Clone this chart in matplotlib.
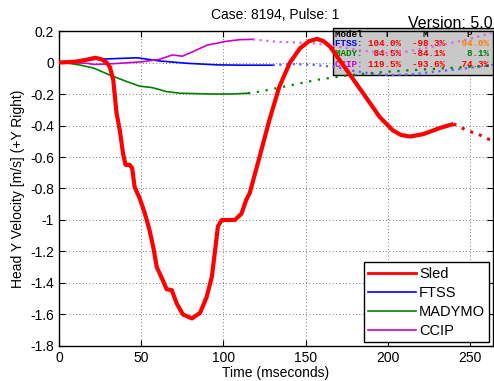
import matplotlib
matplotlib.use("Agg")
import matplotlib.pyplot as plt
from matplotlib.lines import Line2D
from matplotlib.patches import Rectangle

plt.rcParams["font.family"] = ["Liberation Sans", "DejaVu Sans"]
plt.rcParams["axes.unicode_minus"] = False

# Sled (measured) - solid part, then dotted continuation
sled_t = [0, 10, 18, 22, 26, 29, 31, 33, 35, 37, 39, 40.5, 43, 44.5, 46, 49, 52,
          55, 57.5, 59.5, 62.6, 65.5, 68.6, 71.6, 75.4, 80.9, 85.8, 89.8, 93, 95,
          96.7, 99, 107, 111, 114, 116, 122, 128, 134, 140.5, 146.6, 152, 157,
          161, 165, 175, 185, 195, 203, 208, 213.5, 221.5, 231.7, 240]
sled_v = [0, 0.005, 0.02, 0.03, 0.02, 0.0, -0.03, -0.11, -0.32, -0.43, -0.58,
          -0.65, -0.65, -0.67, -0.79, -0.86, -0.95, -1.06, -1.18, -1.30, -1.37,
          -1.44, -1.445, -1.53, -1.60, -1.625, -1.59, -1.49, -1.36, -1.19, -1.04,
          -1.0, -1.0, -0.96, -0.87, -0.83, -0.60, -0.365, -0.155, 0.0, 0.09,
          0.135, 0.15, 0.135, 0.1, -0.048, -0.195, -0.345, -0.43, -0.46, -0.47,
          -0.455, -0.416, -0.39]
sled_ext_t = [240, 248, 256, 264]
sled_ext_v = [-0.39, -0.43, -0.46, -0.50]

ftss_t = [0, 10, 21, 35, 47.5, 61, 78, 96, 112, 130]
ftss_v = [0, 0.005, 0.02, 0.025, 0.03, 0.01, -0.005, -0.015, -0.017, -0.017]
ftss_ext_t = [130, 142, 155, 169, 177, 190, 201, 215, 227, 245, 264]
ftss_ext_v = [-0.017, -0.01, -0.015, -0.03, -0.05, -0.07, -0.08, -0.075, -0.06, -0.04, -0.015]

mady_t = [0, 6, 12.8, 21, 31, 41, 49, 57, 65.5, 73.6, 92, 105, 115]
mady_v = [0, -0.005, -0.016, -0.035, -0.08, -0.12, -0.15, -0.16, -0.185, -0.195,
          -0.2, -0.2, -0.195]
mady_ext_t = [115, 122, 136, 157, 177, 197, 220, 245, 264]
mady_ext_v = [-0.195, -0.185, -0.155, -0.11, -0.08, -0.06, -0.045, -0.03, -0.02]

ccip_t = [0, 10, 17, 21, 28, 37, 51, 61, 69, 75, 81.7, 90, 102, 110, 118]
ccip_v = [0, -0.002, -0.005, -0.012, -0.01, -0.005, 0.005, 0.02, 0.048, 0.04,
          0.07, 0.11, 0.135, 0.145, 0.147]
ccip_ext_t = [118, 132, 153, 170, 185, 197, 212, 232, 248, 264]
ccip_ext_v = [0.147, 0.132, 0.124, 0.1, 0.075, 0.06, 0.07, 0.11, 0.145, 0.19]

# rating table
table_models = ["FTSS:", "MADY:", "CCIP:"]
table_t = ["104.0%", "84.5%", "119.5%"]
table_m = ["-98.3%", "-84.1%", "-93.6%"]
table_p = ["94.0%", "8.1%", "74.3%"]
model_colors = ["#0000ff", "#008000", "#cc00cc"]
p_colors = ["#ff8000", "#008000", "#ff0000"]

fig = plt.figure(figsize=(4.94, 3.81), dpi=100)
ax = fig.add_axes([0.1194, 0.0919, 0.8785, 0.8267])

ax.plot(sled_t, sled_v, color="red", lw=3, zorder=5, solid_capstyle="butt")
ax.plot(sled_ext_t, sled_ext_v, color="red", lw=2.2, ls=(0, (1, 2)), zorder=5)
ax.plot(ftss_t, ftss_v, color="#0000ff", lw=1.2, zorder=4)
ax.plot(ftss_ext_t, ftss_ext_v, color="#6060ff", lw=1.6, ls=(0, (1, 2)), zorder=4)
ax.plot(mady_t, mady_v, color="#008000", lw=1.2, zorder=4)
ax.plot(mady_ext_t, mady_ext_v, color="#008000", lw=1.6, ls=(0, (1, 3)), zorder=4)
ax.plot(ccip_t, ccip_v, color="#cc00cc", lw=1.2, zorder=4)
ax.plot(ccip_ext_t, ccip_ext_v, color="#dd66dd", lw=1.6, ls=(0, (1, 2)), zorder=4)

ax.set_xlim(0, 264)
ax.set_ylim(-1.8, 0.2)
ax.set_xticks([0, 50, 100, 150, 200, 250])
yt = [0.2, 0, -0.2, -0.4, -0.6, -0.8, -1, -1.2, -1.4, -1.6, -1.8]
ax.set_yticks(yt)
ax.set_yticklabels(["%g" % v for v in yt])
ax.tick_params(direction="in", length=4, top=True, right=True, labelsize=10)
ax.grid(True, color="black", ls=(0, (1, 3)), lw=0.6, alpha=0.7)
for s in ax.spines.values():
    s.set_linewidth(1)

ax.set_xlabel("Time (mseconds)", fontsize=10, labelpad=1)
ax.set_ylabel("Head Y Velocity [m/s] (+Y Right)", fontsize=10, labelpad=4)
fig.text(0.557, 0.96, "Case: 8194, Pulse: 1", ha="center", va="center", fontsize=10)
fig.text(0.998, 0.926, "Version: 5.0", ha="right", va="baseline", fontsize=11.5)

# table box drawn under the lines
x0 = (333 - 59) / 434
ax.add_patch(Rectangle((x0, 0.86), 1.2, 0.148, transform=ax.transAxes,
                       facecolor="#c8c8c8", edgecolor="black", lw=1,
                       zorder=2, clip_on=False))


def row_text(parts, y, fs=6.7):
    # parts: list of (text, color, column); pieces padded in monospace
    width = max(c + len(t) for t, _, c in parts)
    for t, col, c in parts:
        s = " " * c + t
        s = s.ljust(width)
        ax.text(x0 + 0.004, y, s, transform=ax.transAxes, color=col,
                family="Liberation Mono", weight="bold", fontsize=fs,
                va="center", ha="left", zorder=3, clip_on=False)


row_text([("Model", "black", 0), ("T", "black", 9), ("M", "black", 16),
          ("P", "black", 24)], 0.99)
rows_y = [0.961, 0.929, 0.895]
for i in range(3):
    tt = table_t[i].rjust(6)
    mm = table_m[i].rjust(6)
    pp = table_p[i].rjust(5)
    row_text([(table_models[i], model_colors[i], 0), (tt, "red", 6),
              (mm, "red", 14), (pp, p_colors[i], 23)], rows_y[i])

handles = [Line2D([], [], color="red", lw=2),
           Line2D([], [], color="#0000ff", lw=1.2),
           Line2D([], [], color="#008000", lw=1.2),
           Line2D([], [], color="#cc00cc", lw=1.2)]
leg = ax.legend(handles, ["Sled", "FTSS", "MADYMO", "CCIP"], loc="lower right",
                fontsize=10.5, fancybox=False, framealpha=1, edgecolor="black",
                handlelength=3.3, handletextpad=0.2, labelspacing=0.35,
                borderpad=0.3, borderaxespad=0.25)
leg.get_frame().set_linewidth(1)
leg.set_zorder(6)

fig.savefig("out.png", dpi=100)
